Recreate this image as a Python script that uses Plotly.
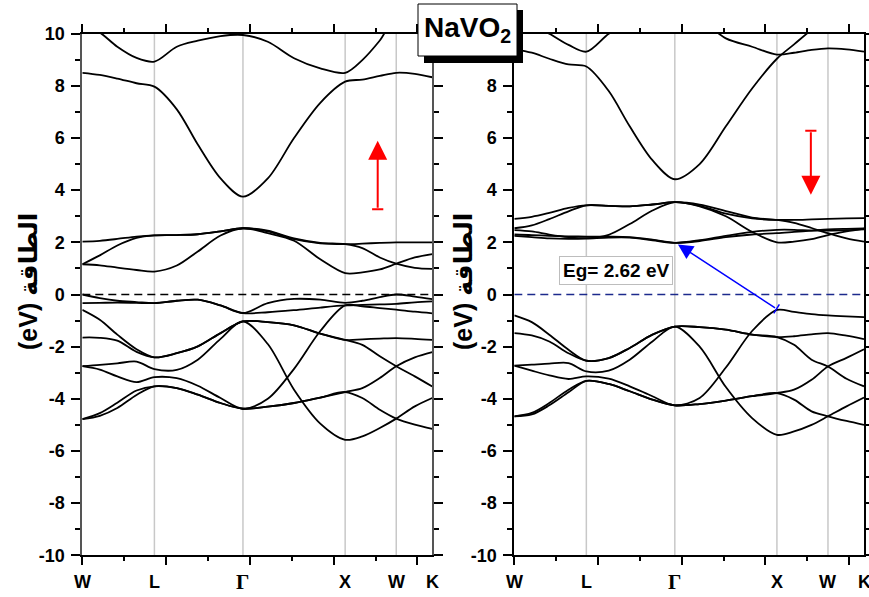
import plotly.graph_objects as go

# ---------------- data ----------------
# k-path positions (fraction of W-L-Γ-X-W-K path length)
K = [0, 0.05, 0.10, 0.155, 0.206, 0.27, 0.33, 0.395, 0.459,
     0.53, 0.605, 0.68, 0.751, 0.80, 0.85, 0.897, 0.95, 1.0]
K_POINTS = [0, 0.206, 0.459, 0.751, 0.897, 1.0]
K_LABELS = ["W", "L", "Γ", "X", "W", "K"]
Y_TICKS = [-10, -8, -6, -4, -2, 0, 2, 4, 6, 8, 10]
Y_TICK_TEXT = ["-10", "-8", "-6", "-4", "-2", "0", "2", "4", "6", "8", "10"]
Y_MINOR = [-9, -7, -5, -3, -1, 1, 3, 5, 7, 9]

# spin-up (left panel) bands, eV
UP_BANDS = [
    [10.4, 10.05, 9.5, 9.07, 8.93, 9.5, 9.73, 9.91, 9.95, 9.69, 9.06, 8.67, 8.5, 8.99, 9.74, 10.6, 10.1, 9.65],
    [8.5, 8.42, 8.28, 8.1, 7.97, 7.1, 5.75, 4.45, 3.75, 4.45, 6.0, 7.35, 8.16, 8.24, 8.38, 8.5, 8.46, 8.33],
    [2.03, 2.06, 2.13, 2.22, 2.27, 2.28, 2.31, 2.42, 2.54, 2.42, 2.12, 1.96, 1.93, 1.95, 1.98, 2.0, 2.0, 2.0],
    [1.16, 1.5, 1.88, 2.17, 2.27, 2.28, 2.31, 2.42, 2.54, 2.45, 2.15, 1.98, 1.93, 1.78, 1.42, 1.18, 1.02, 0.98],
    [1.16, 1.12, 1.03, 0.94, 0.88, 1.11, 1.65, 2.26, 2.54, 2.35, 2.06, 1.35, 0.82, 0.85, 0.96, 1.18, 1.42, 1.55],
    [0.0, -0.14, -0.24, -0.29, -0.33, -0.24, -0.2, -0.42, -0.71, -0.33, -0.17, -0.2, -0.32, -0.24, -0.1, 0.0, -0.08, -0.18],
    [-0.33, -0.32, -0.31, -0.32, -0.33, -0.24, -0.2, -0.42, -0.71, -0.68, -0.6, -0.5, -0.42, -0.4, -0.38, -0.36, -0.3, -0.26],
    [-0.59, -0.97, -1.54, -2.1, -2.41, -2.25, -1.99, -1.48, -1.03, -1.06, -1.18, -1.5, -1.74, -1.93, -2.37, -2.75, -3.14, -3.53],
    [-1.65, -1.66, -1.77, -2.2, -2.41, -2.25, -1.99, -1.48, -1.03, -1.06, -1.18, -1.5, -1.74, -1.72, -1.69, -1.67, -1.7, -1.74],
    [-2.75, -2.7, -2.64, -2.57, -2.86, -2.89, -2.5, -1.7, -1.03, -1.9, -3.65, -4.95, -5.57, -5.44, -5.12, -4.76, -4.29, -3.97],
    [-2.75, -2.88, -3.14, -3.36, -3.17, -3.21, -3.5, -3.97, -4.38, -4.0, -2.85, -1.4, -0.42, -0.45, -0.52, -0.58, -0.66, -0.72],
    [-4.78, -4.55, -4.15, -3.68, -3.52, -3.59, -3.84, -4.16, -4.38, -4.3, -4.16, -3.95, -3.74, -3.59, -3.2, -2.75, -2.41, -2.21],
    [-4.78, -4.65, -4.35, -3.85, -3.52, -3.59, -3.84, -4.16, -4.38, -4.3, -4.16, -3.95, -3.74, -3.97, -4.42, -4.76, -4.99, -5.15],
]

# spin-down (right panel) bands, eV
DOWN_BANDS = [
    [10.5, 10.3, 10.0, 9.57, 9.31, 10.0, 10.5, 10.7, 10.8, 10.55, 9.82, 9.5, 9.2, 9.27, 9.38, 9.44, 9.4, 9.31],
    [9.4, 9.27, 9.04, 8.82, 8.74, 7.8, 6.45, 5.15, 4.42, 5.0, 6.45, 7.9, 9.04, 9.59, 10.15, 10.6, 11.0, 11.2],
    [2.9, 2.98, 3.13, 3.32, 3.42, 3.4, 3.38, 3.45, 3.54, 3.4, 3.1, 2.92, 2.86, 2.86, 2.88, 2.9, 2.92, 2.93],
    [2.54, 2.65, 2.89, 3.19, 3.42, 3.4, 3.38, 3.45, 3.54, 3.45, 3.2, 2.95, 2.86, 2.75, 2.55, 2.35, 2.15, 2.03],
    [2.47, 2.42, 2.3, 2.2, 2.16, 2.29, 2.7, 3.22, 3.54, 3.38, 3.0, 2.4, 2.0, 2.03, 2.12, 2.28, 2.42, 2.53],
    [2.3, 2.28, 2.25, 2.23, 2.22, 2.22, 2.2, 2.1, 1.98, 2.05, 2.2, 2.3, 2.35, 2.4, 2.45, 2.5, 2.52, 2.53],
    [2.25, 2.2, 2.15, 2.13, 2.14, 2.18, 2.18, 2.08, 1.98, 2.08, 2.25, 2.4, 2.48, 2.48, 2.45, 2.45, 2.47, 2.5],
    [-0.8, -1.06, -1.54, -2.12, -2.54, -2.44, -2.05, -1.54, -1.23, -1.25, -1.35, -1.54, -1.63, -1.93, -2.5, -2.76, -3.23, -3.52],
    [-1.48, -1.57, -1.8, -2.25, -2.54, -2.44, -2.05, -1.54, -1.23, -1.25, -1.35, -1.54, -1.63, -1.6, -1.53, -1.48, -1.58, -1.71],
    [-2.73, -2.69, -2.65, -2.63, -2.95, -2.92, -2.5, -1.8, -1.23, -2.0, -3.55, -4.74, -5.38, -5.25, -5.0, -4.67, -4.29, -3.95],
    [-2.73, -2.92, -3.1, -3.24, -3.14, -3.23, -3.52, -3.9, -4.25, -3.97, -2.8, -1.4, -0.59, -0.67, -0.75, -0.8, -0.84, -0.87],
    [-4.67, -4.54, -4.16, -3.65, -3.31, -3.43, -3.71, -4.03, -4.25, -4.2, -4.07, -3.9, -3.78, -3.65, -3.27, -2.76, -2.43, -2.1],
    [-4.67, -4.6, -4.25, -3.75, -3.31, -3.43, -3.71, -4.03, -4.25, -4.2, -4.07, -3.9, -3.78, -4.03, -4.48, -4.67, -4.85, -5.0],
]

TITLE = "NaVO<sub>2</sub>"
Y_TITLE = "(eV) الطاقة"
GAP_TEXT = "Eg= 2.62 eV"
VBM = (0.75, -0.55)
CBM = (0.468, 1.92)
UP_ARROW = (0.844, 3.27, 5.9)     # x, tail, tip
DOWN_ARROW = (0.848, 6.28, 3.82)  # x, tail, tip

# ---------------- layout geometry ----------------
W, H = 869, 597
LEFT_PX = (82.3, 432.3)
RIGHT_PX = (514.3, 864.0)
TOP_PX, BOT_PX = 33.7, 555.3


def px(x):
    return x / W


def py(y):
    return 1 - y / H


FONT = "Liberation Sans, Arial, DejaVu Sans, sans-serif"

fig = go.Figure()


def add_bands(bands, xa, ya):
    for b in bands:
        fig.add_trace(go.Scatter(
            x=K, y=b, mode="lines", xaxis=xa, yaxis=ya,
            line=dict(color="black", width=1.8, shape="spline", smoothing=0.9),
            showlegend=False, hoverinfo="skip"))


add_bands(UP_BANDS, "x", "y")
add_bands(DOWN_BANDS, "x2", "y2")


def xaxis_cfg(dom):
    return dict(domain=[px(dom[0]), px(dom[1])], range=[0, 1], automargin=False,
                showline=True, linecolor="black", linewidth=2, mirror="allticks",
                ticks="outside", ticklen=8, tickwidth=2, tickcolor="black",
                tickmode="linear", tick0=0, dtick=0.2394, showticklabels=False,
                showgrid=False, zeroline=False, fixedrange=True,
                minor=dict(ticks="outside", ticklen=4, tickwidth=2, tickcolor="black",
                           tick0=0, dtick=0.1197, showgrid=False))


def yaxis_cfg(linecolor):
    return dict(domain=[py(BOT_PX), py(TOP_PX)], range=[-10, 10], automargin=False,
                showline=True, linecolor=linecolor, linewidth=2, mirror="allticks",
                ticks="outside", ticklen=9, tickwidth=2, tickcolor="black",
                tickmode="array", tickvals=Y_TICKS, ticktext=Y_TICK_TEXT,
                tickfont=dict(family=FONT, size=18, color="black", weight="bold"),
                ticklabelstandoff=3,
                showgrid=False, zeroline=False, fixedrange=True,
                minor=dict(ticks="outside", ticklen=5, tickwidth=2, tickcolor="black",
                           tickvals=Y_MINOR, showgrid=False))


shapes = []
for xr, yr, zcol in (("x", "y", "black"), ("x2", "y2", "#1c2a8c")):
    for kp in K_POINTS[1:-1]:
        shapes.append(dict(type="line", xref=xr, yref=yr, x0=kp, x1=kp, y0=-10, y1=10,
                           line=dict(color="#c8c8c8", width=1.5), layer="below"))
    shapes.append(dict(type="line", xref=xr, yref=yr, x0=0, x1=1, y0=0, y1=0,
                       line=dict(color=zcol, width=1.5, dash="8px,5px"), layer="above"))

# tails of the arrows (bars)
for xr, yr, (ax, tail, tip) in (("x", "y", UP_ARROW), ("x2", "y2", DOWN_ARROW)):
    shapes.append(dict(type="line", xref=xr, yref=yr, x0=ax - 0.016, x1=ax + 0.016,
                       y0=tail, y1=tail, line=dict(color="red", width=2), layer="above"))
shapes.append(dict(type="line", xref="x2", yref="y2",
                   x0=VBM[0] - 0.008, x1=VBM[0] + 0.008, y0=VBM[1] - 0.17, y1=VBM[1] + 0.17,
                   line=dict(color="blue", width=1.5), layer="above"))

# title box with shadow
shapes.append(dict(type="rect", xref="paper", yref="paper",
                   x0=px(424), x1=px(523), y0=py(63), y1=py(10),
                   fillcolor="black", line=dict(width=0), layer="above"))
shapes.append(dict(type="rect", xref="paper", yref="paper",
                   x0=px(418), x1=px(517), y0=py(56), y1=py(4),
                   fillcolor="white", line=dict(color="black", width=1), layer="above"))

annotations = []
# x labels
for xr, dom in (("x", LEFT_PX), ("x2", RIGHT_PX)):
    for kp, lab in zip(K_POINTS, K_LABELS):
        if lab == "Γ":
            f = dict(family="Liberation Serif, Times New Roman, serif", size=21, color="black", weight="bold")
        else:
            f = dict(family=FONT, size=18, color="black", weight="bold")
        annotations.append(dict(x=kp, xref=xr, y=py(582), yref="paper", text=lab,
                                showarrow=False, font=f, xanchor="center", yanchor="middle"))

# y titles
for xc in (28, 463):
    annotations.append(dict(x=px(xc), y=py(282), xref="paper", yref="paper", text=Y_TITLE,
                            textangle=-90, showarrow=False,
                            font=dict(family=FONT, size=25, color="black", weight="bold"),
                            xanchor="center", yanchor="middle"))

# title
annotations.append(dict(x=px(467.5), y=py(30), xref="paper", yref="paper", text=TITLE,
                        showarrow=False, font=dict(family=FONT, size=28, color="black", weight="bold"),
                        xanchor="center", yanchor="middle"))

# spin arrows
for xr, yr, (ax, tail, tip) in (("x", "y", UP_ARROW), ("x2", "y2", DOWN_ARROW)):
    annotations.append(dict(x=ax, y=tip, xref=xr, yref=yr, ax=ax, ay=tail, axref=xr, ayref=yr,
                            text="", showarrow=True, arrowhead=2, arrowsize=1.9,
                            arrowwidth=2, arrowcolor="red", standoff=0, startstandoff=0))

# gap arrow
annotations.append(dict(x=CBM[0], y=CBM[1], xref="x2", yref="y2", ax=VBM[0], ay=VBM[1],
                        axref="x2", ayref="y2", text="", showarrow=True, arrowhead=2,
                        arrowsize=2.0, arrowwidth=1.5, arrowcolor="blue", standoff=0))

# gap label box
annotations.append(dict(x=px(616), y=py(270.5), xref="paper", yref="paper", text=GAP_TEXT,
                        showarrow=False, font=dict(family=FONT, size=19, color="black", weight="bold"),
                        bordercolor="#bdbdbd", borderwidth=1, borderpad=3, bgcolor="white",
                        xanchor="center", yanchor="middle"))

fig.update_layout(
    width=W, height=H, margin=dict(l=0, r=0, t=0, b=0, pad=0, autoexpand=False),
    paper_bgcolor="white", plot_bgcolor="white",
    xaxis=xaxis_cfg(LEFT_PX), yaxis=yaxis_cfg("#555555"),
    xaxis2=xaxis_cfg(RIGHT_PX), yaxis2=yaxis_cfg("black"),
    shapes=shapes, annotations=annotations, showlegend=False,
)
fig.layout.xaxis2.anchor = "y2"
fig.layout.yaxis2.anchor = "x2"

fig.write_html("out.html")
